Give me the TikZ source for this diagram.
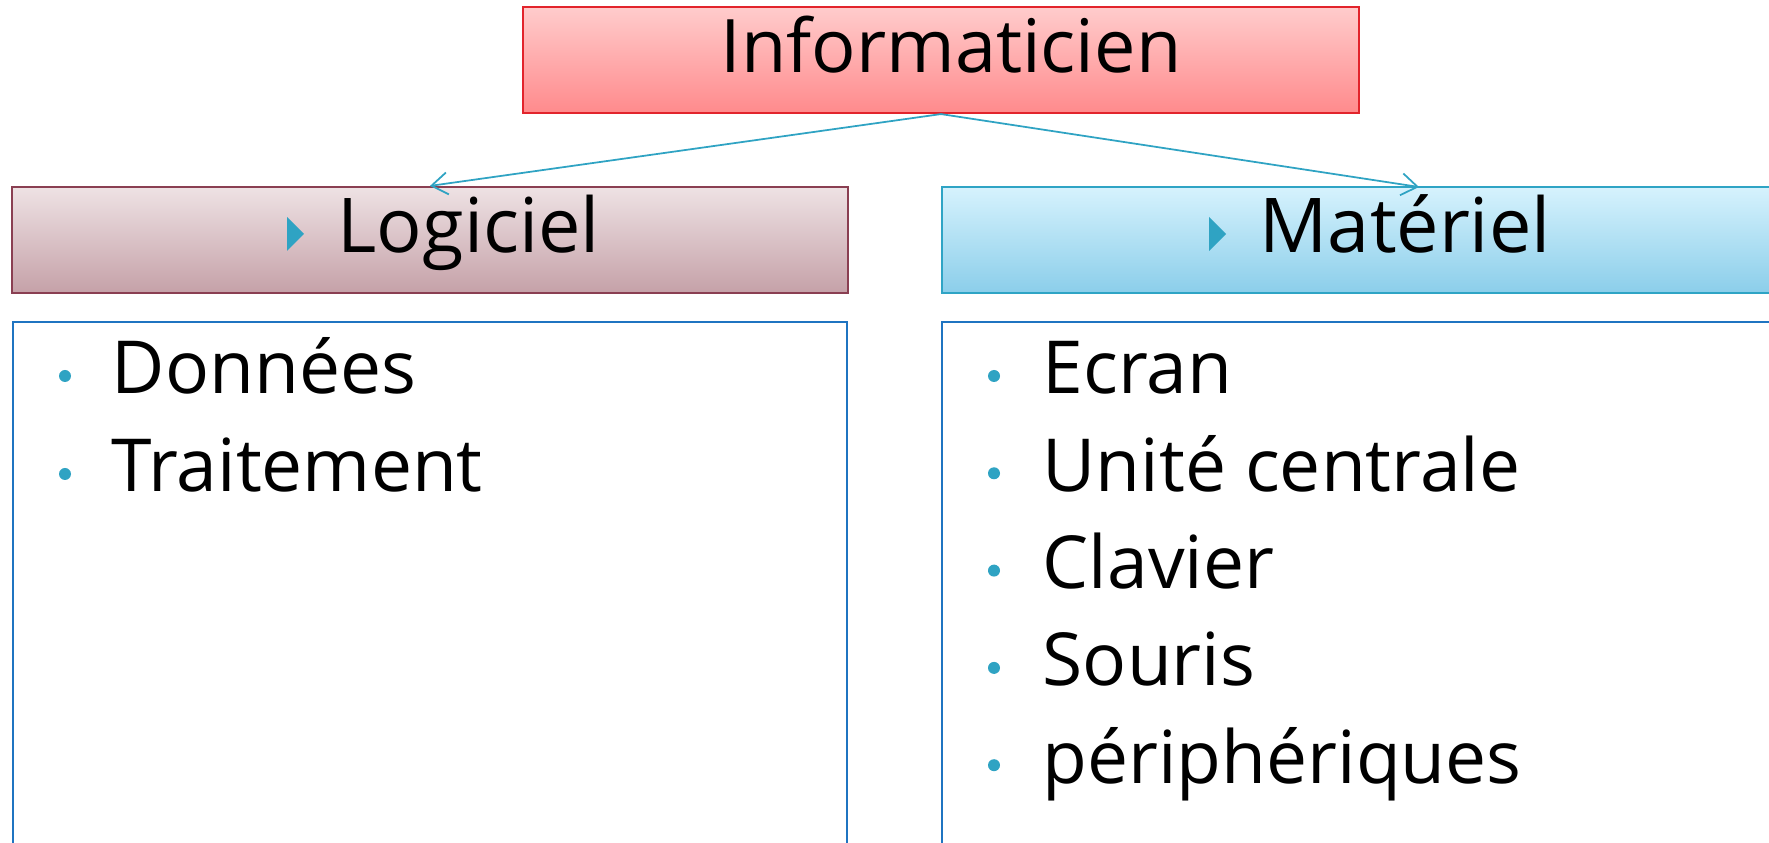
\documentclass[tikz,border=0pt]{standalone}
\usepackage{fontspec}
\setmainfont{Open Sans}
\usetikzlibrary{arrows.meta, positioning, calc}

\definecolor{teal}{HTML}{2FA3C3}
\definecolor{infofill1}{HTML}{FFCCCC}
\definecolor{infofill2}{HTML}{FF8A8C}
\definecolor{infoline}{HTML}{E2242C}
\definecolor{logfill1}{HTML}{EEE2E4}
\definecolor{logfill2}{HTML}{C5A1A8}
\definecolor{logline}{HTML}{8A3F52}
\definecolor{matfill1}{HTML}{D6F2FD}
\definecolor{matfill2}{HTML}{8BCEEA}
\definecolor{matline}{HTML}{2FA4C5}
\definecolor{listline}{HTML}{1F74C1}

\begin{document}
\begin{tikzpicture}[x=0.01cm, y=-0.01cm,
    box/.style={rectangle, inner sep=0pt, line width=0.6pt},
    title/.style={inner sep=0pt, font=\fontsize{21.5}{26}\selectfont},
    item/.style={inner sep=0pt, anchor=base west, font=\fontsize{20.8}{25}\selectfont},
    link/.style={teal, line width=0.5pt, -{Straight Barb[length=1.6mm, width=2.2mm]}}]
      \clip (0, 0) rectangle (1769, 843);

      % boxes
      \node[box, draw=infoline, top color=infofill1, bottom color=infofill2,
            minimum width=8.36cm, minimum height=1.06cm] (info) at (941, 60) {};
      \node[box, draw=logline, top color=logfill1, bottom color=logfill2,
            minimum width=8.36cm, minimum height=1.06cm] (log) at (430, 240) {};
      \node[box, draw=matline, top color=matfill1, bottom color=matfill2,
            minimum width=8.57cm, minimum height=1.06cm] (mat) at (1371, 240) {};
      \node[box, draw=listline, fill=white,
            minimum width=8.34cm, minimum height=5.77cm] (loglist) at (430, 611) {};
      \node[box, draw=listline, fill=white,
            minimum width=8.57cm, minimum height=5.77cm] (matlist) at (1371, 611) {};

      % links
      \coordinate (matin) at (1419, 187);
      \draw[link] (info.south) -- (log.north);
      \draw[link] (info.south) -- (matin);

      % titles
      \node[title, anchor=base, font=\fontsize{21}{25}\selectfont] (infotxt) at (951, 73) {Informaticien};
      \fill[teal] (287, 217) -- (304, 234) -- (287, 251) -- cycle;
      \node[title, anchor=base west] (logtxt) at (337, 253) {Logiciel};
      \fill[teal] (1209, 217) -- (1226, 234) -- (1209, 251) -- cycle;
      \node[title, anchor=base west] (mattxt) at (1259, 253) {Matériel};

      % lists
      \foreach \t [count=\i] in {Données, Traitement} {
        \fill[teal] (65, {376 + 98*(\i-1)}) circle[radius=6];
        \node[item] (logitem\i) at (111, {394 + 98*(\i-1)}) {\t};
      }
      \foreach \t [count=\i] in {Ecran, Unité centrale, Clavier, Souris, périphériques} {
        \fill[teal] (994, {376 + 97.3*(\i-1)}) circle[radius=6];
        \node[item] (matitem\i) at (1042, {394 + 97.3*(\i-1)}) {\t};
      }

    \end{tikzpicture}
\end{document}
